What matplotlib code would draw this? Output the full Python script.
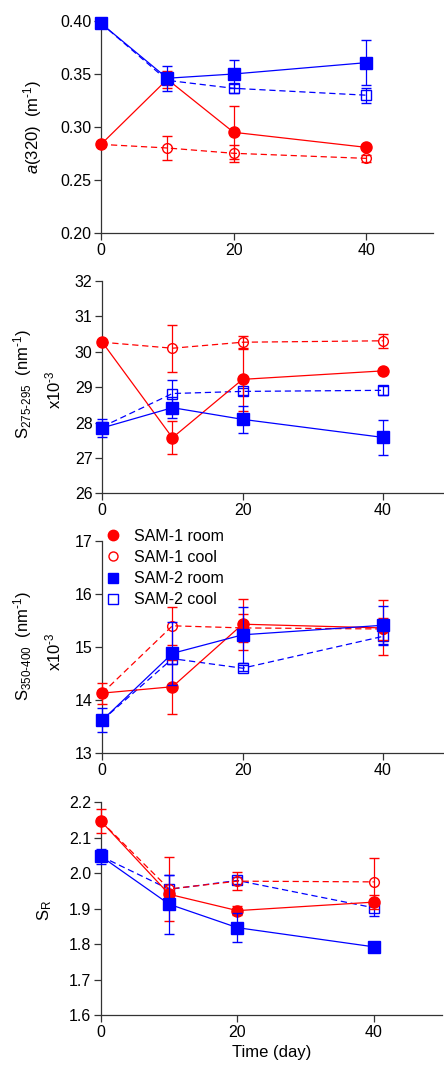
import matplotlib
matplotlib.use('Agg')
import matplotlib.pyplot as plt
from matplotlib.lines import Line2D

plt.rcParams['font.family'] = ['Liberation Sans', 'DejaVu Sans']
plt.rcParams['mathtext.fontset'] = 'custom'
plt.rcParams['mathtext.rm'] = 'Liberation Sans'
plt.rcParams['mathtext.it'] = 'Liberation Sans:italic'
plt.rcParams['mathtext.bf'] = 'Liberation Sans:bold'

days = [0, 10, 20, 40]
series_names = ['SAM-1 room', 'SAM-1 cool', 'SAM-2 room', 'SAM-2 cool']

# a(320) (m-1)
a320_s1_room = [0.2836, 0.345, 0.295, 0.2808]
a320_s1_room_err = [0.0, 0.008, 0.025, 0.002]
a320_s1_cool = [0.2836, 0.2802, 0.2752, 0.2704]
a320_s1_cool_err = [0.0, 0.011, 0.008, 0.003]
a320_s2_room = [0.3978, 0.346, 0.350, 0.3607]
a320_s2_room_err = [0.0, 0.012, 0.013, 0.021]
a320_s2_cool = [0.3978, 0.344, 0.3365, 0.330]
a320_s2_cool_err = [0.0, 0.003, 0.004, 0.007]

# S275-295 (x10-3 nm-1)
s275_s1_room = [30.27, 27.57, 29.22, 29.46]
s275_s1_room_err = [0.0, 0.46, 0.88, 0.0]
s275_s1_cool = [30.27, 30.10, 30.27, 30.31]
s275_s1_cool_err = [0.0, 0.67, 0.18, 0.20]
s275_s2_room = [27.85, 28.42, 28.09, 27.58]
s275_s2_room_err = [0.26, 0.30, 0.39, 0.49]
s275_s2_cool = [27.88, 28.82, 28.88, 28.91]
s275_s2_cool_err = [0.0, 0.39, 0.10, 0.12]

# S350-400 (x10-3 nm-1)
s350_s1_room = [14.13, 14.25, 15.43, 15.36]
s350_s1_room_err = [0.20, 0.51, 0.48, 0.52]
s350_s1_cool = [14.13, 15.40, 15.36, 15.34]
s350_s1_cool_err = [0.0, 0.36, 0.27, 0.20]
s350_s2_room = [13.62, 14.88, 15.23, 15.41]
s350_s2_room_err = [0.22, 0.60, 0.53, 0.37]
s350_s2_cool = [13.62, 14.78, 14.60, 15.20]
s350_s2_cool_err = [0.0, 0.10, 0.06, 0.15]

# SR
sr_s1_room = [2.146, 1.940, 1.894, 1.918]
sr_s1_room_err = [0.033, 0.0, 0.012, 0.02]
sr_s1_cool = [2.146, 1.955, 1.977, 1.975]
sr_s1_cool_err = [0.0, 0.089, 0.026, 0.066]
sr_s2_room = [2.047, 1.912, 1.846, 1.792]
sr_s2_room_err = [0.022, 0.083, 0.040, 0.0]
sr_s2_cool = [2.047, 1.954, 1.979, 1.902]
sr_s2_cool_err = [0.0, 0.040, 0.010, 0.022]

RED = '#ff0000'
BLUE = '#0000ff'
styles = [
    dict(color=RED, marker='o', mfc=RED, ls='-', ms=8, z=3),
    dict(color=RED, marker='o', mfc='none', ls=(0, (5, 3)), ms=7, z=2),
    dict(color=BLUE, marker='s', mfc=BLUE, ls='-', ms=8, z=4),
    dict(color=BLUE, marker='s', mfc='none', ls=(0, (5, 3)), ms=7, z=1),
]

W, H = 444, 1065
fig = plt.figure(figsize=(W / 100, H / 100), dpi=100)


def make_ax(left, right, top, bottom):
    return fig.add_axes([left / W, (H - bottom) / H, (right - left) / W, (bottom - top) / H])


panels = [
    (make_ax(101, 432.5, 21, 233),
     [(a320_s1_room, a320_s1_room_err), (a320_s1_cool, a320_s1_cool_err),
      (a320_s2_room, a320_s2_room_err), (a320_s2_cool, a320_s2_cool_err)],
     (0.20, 0.40), [0.20, 0.25, 0.30, 0.35, 0.40], '%.2f'),
    (make_ax(102.3, 453, 281, 493.3),
     [(s275_s1_room, s275_s1_room_err), (s275_s1_cool, s275_s1_cool_err),
      (s275_s2_room, s275_s2_room_err), (s275_s2_cool, s275_s2_cool_err)],
     (26, 32), [26, 27, 28, 29, 30, 31, 32], '%d'),
    (make_ax(102.3, 453, 541, 753),
     [(s350_s1_room, s350_s1_room_err), (s350_s1_cool, s350_s1_cool_err),
      (s350_s2_room, s350_s2_room_err), (s350_s2_cool, s350_s2_cool_err)],
     (13, 17), [13, 14, 15, 16, 17], '%d'),
    (make_ax(101, 442, 802, 1015),
     [(sr_s1_room, sr_s1_room_err), (sr_s1_cool, sr_s1_cool_err),
      (sr_s2_room, sr_s2_room_err), (sr_s2_cool, sr_s2_cool_err)],
     (1.6, 2.2), [1.6, 1.7, 1.8, 1.9, 2.0, 2.1, 2.2], '%.1f'),
]

for ax, data, ylim, yticks, fmt in panels:
    for (vals, errs), st in zip(data, styles):
        ax.errorbar(days, vals, yerr=errs, color=st['color'], ls=st['ls'], lw=0.9,
                    marker=st['marker'], ms=st['ms'], mfc=st['mfc'], mec=st['color'],
                    mew=1.0, elinewidth=0.9, capsize=3.5, capthick=0.9,
                    zorder=st['z'], clip_on=False)
    ax.set_xlim(0, 50)
    ax.set_ylim(*ylim)
    ax.set_xticks([0, 20, 40])
    ax.set_yticks(yticks)
    ax.set_yticklabels([fmt % t for t in yticks])
    for s in ['top', 'right']:
        ax.spines[s].set_visible(False)
    for s in ['left', 'bottom']:
        ax.spines[s].set_color('#333333')
        ax.spines[s].set_linewidth(0.9)
    ax.tick_params(direction='out', length=5, width=0.9, color='#333333',
                   labelsize=11.5, pad=2)

lab = dict(rotation=90, ha='center', va='center', fontsize=12)
fig.text(33 / W, 1 - 127 / H, r'$a$(320)  (m$^{\text{-}1}$)', **lab)
fig.text(23 / W, 1 - 384 / H, r'S$_{275\text{-}295}$  (nm$^{\text{-}1}$)', **lab)
fig.text(53 / W, 1 - 390 / H, r'x10$^{\text{-}3}$', **lab)
fig.text(23 / W, 1 - 646 / H, r'S$_{350\text{-}400}$  (nm$^{\text{-}1}$)', **lab)
fig.text(53 / W, 1 - 652 / H, r'x10$^{\text{-}3}$', **lab)
fig.text(45 / W, 1 - 910 / H, r'S$_{\mathrm{R}}$', **lab)
fig.text(272 / W, 1 - 1052 / H, 'Time (day)', ha='center', va='center', fontsize=12)

handles = [Line2D([], [], ls='none', marker=st['marker'], ms=st['ms'] - 0.5,
                  mfc=st['mfc'], mec=st['color'], mew=1.0) for st in styles]
fig.legend(handles, series_names, loc='upper left', bbox_to_anchor=(105 / W, 1 - 529 / H),
           frameon=False, fontsize=11.5, handlelength=1.0, handletextpad=0.8,
           labelspacing=0.38, borderpad=0, borderaxespad=0)

fig.savefig('out.png', dpi=100)
